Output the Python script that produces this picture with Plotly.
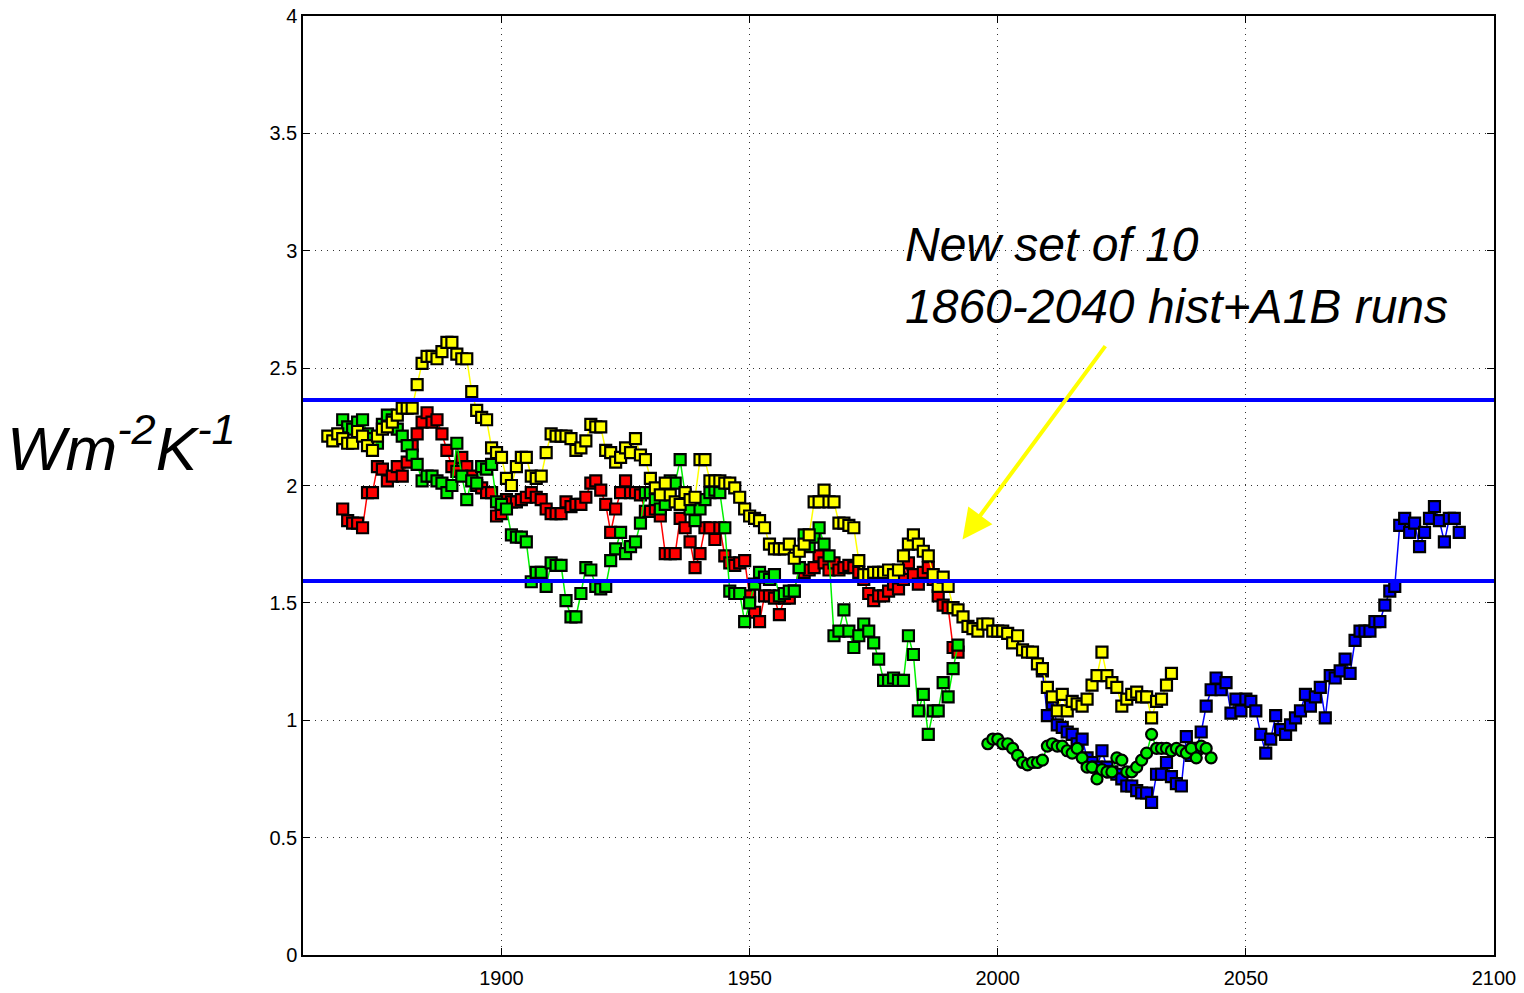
import plotly.graph_objects as go

# Yellow run (annual values, W m-2 K-1)
yellow_years = list(range(1865, 2036))
yellow_vals = [
    2.21, 2.19, 2.22, 2.20, 2.18, 2.18, 2.23, 2.21, 2.17, 2.15,
    2.21, 2.24, 2.25, 2.27, 2.30, 2.33, 2.33, 2.33, 2.43, 2.52,
    2.55, 2.55, 2.54, 2.57, 2.61, 2.61, 2.56, 2.54, 2.54, 2.40,
    2.32, 2.29, 2.28, 2.16, 2.14, 2.12, 2.03, 2.00, 2.08, 2.12,
    2.12, 2.04, 2.03, 2.04, 2.14, 2.22, 2.21, 2.21, 2.21, 2.20,
    2.15, 2.16, 2.19, 2.26, 2.25, 2.25, 2.15, 2.14, 2.10, 2.12,
    2.16, 2.14, 2.20, 2.13, 2.11, 2.03, 1.99, 1.96, 2.01, 1.96,
    1.93, 1.92, 1.97, 1.94, 1.95, 2.11, 2.11, 2.02, 2.02, 2.02,
    2.01, 2.01, 1.99, 1.95, 1.90, 1.87, 1.86, 1.85, 1.82, 1.75,
    1.73, 1.73, 1.73, 1.75, 1.69, 1.72, 1.75, 1.79, 1.93, 1.93,
    1.98, 1.93, 1.93, 1.84, 1.84, 1.83, 1.82, 1.68, 1.62, 1.62,
    1.63, 1.63, 1.63, 1.64, 1.62, 1.64, 1.70, 1.75, 1.79, 1.75,
    1.72, 1.70, 1.62, 1.57, 1.61, 1.57, 1.48, 1.47, 1.44, 1.40,
    1.39, 1.38, 1.41, 1.41, 1.38, 1.38, 1.38, 1.37, 1.33, 1.36,
    1.30, 1.29, 1.29, 1.24, 1.22, 1.14, 1.10, 1.04, 1.11, 1.04,
    1.08, 1.07, 1.06, 1.09, 1.15, 1.19, 1.29, 1.19, 1.16, 1.14,
    1.06, 1.09, 1.11, 1.12, 1.10, 1.10, 1.01, 1.08, 1.09, 1.15,
    1.20,
]

# Red run
red_years = list(range(1868, 1993))
red_vals = [
    1.90, 1.85, 1.84, 1.84, 1.82, 1.97, 1.97, 2.08, 2.07, 2.02,
    2.04, 2.08, 2.04, 2.10, 2.17, 2.22, 2.27, 2.31, 2.27, 2.28,
    2.22, 2.15, 2.08, 2.06, 2.12, 2.08, 2.04, 2.00, 1.99, 1.97,
    1.97, 1.87, 1.88, 1.94, 1.93, 1.93, 1.94, 1.95, 1.97, 1.95,
    1.94, 1.90, 1.88, 1.88, 1.88, 1.93, 1.91, 1.92, 1.92, 1.95,
    2.01, 2.02, 1.98, 1.92, 1.80, 1.90, 1.97, 2.02, 1.97, 1.97,
    1.96, 1.89, 1.89, 1.90, 1.87, 1.71, 1.71, 1.71, 1.86, 1.82,
    1.76, 1.65, 1.71, 1.82, 1.82, 1.77, 1.82, 1.70, 1.67, 1.66,
    1.67, 1.68, 1.53, 1.46, 1.42, 1.53, 1.53, 1.52, 1.45, 1.52,
    1.52, 1.55, 1.65, 1.63, 1.64, 1.65, 1.70, 1.67, 1.64, 1.67,
    1.64, 1.65, 1.66, 1.65, 1.63, 1.60, 1.54, 1.51, 1.53, 1.53,
    1.55, 1.58, 1.56, 1.60, 1.67, 1.62, 1.58, 1.63, 1.65, 1.60,
    1.53, 1.49, 1.48, 1.31, 1.29,
]

# Green run (squares)
green_years = list(range(1868, 1993))
green_vals = [
    2.28, 2.25, 2.24, 2.27, 2.28, 2.22, 2.20, 2.18, 2.26, 2.30,
    2.28, 2.24, 2.21, 2.17, 2.13, 2.09, 2.02, 2.04, 2.04, 2.02,
    2.01, 1.97, 2.00, 2.18, 2.04, 1.94, 2.02, 2.01, 2.08, 2.07,
    2.09, 1.93, 1.92, 1.90, 1.79, 1.78, 1.78, 1.76, 1.59, 1.63,
    1.63, 1.57, 1.67, 1.66, 1.66, 1.51, 1.44, 1.44, 1.54, 1.65,
    1.64, 1.57, 1.56, 1.57, 1.68, 1.73, 1.80, 1.71, 1.74, 1.76,
    1.84, 1.97, 1.97, 1.94, 1.90, 1.92, 2.02, 2.01, 2.11, 1.96,
    1.90, 1.85, 1.90, 1.94, 1.97, 1.98, 1.97, 1.82, 1.55, 1.54,
    1.54, 1.42, 1.50, 1.58, 1.63, 1.61, 1.60, 1.62, 1.53, 1.54,
    1.55, 1.55, 1.65, 1.79, 1.74, 1.78, 1.82, 1.75, 1.70, 1.36,
    1.38, 1.47, 1.38, 1.31, 1.36, 1.41, 1.38, 1.33, 1.26, 1.17,
    1.17, 1.18, 1.17, 1.17, 1.36, 1.28, 1.04, 1.11, 0.94, 1.04,
    1.04, 1.16, 1.10, 1.22, 1.32,
]

# Green run continuation (circles)
circle_years = list(range(1998, 2044))
circle_vals = [
    0.90, 0.92, 0.92, 0.90, 0.90, 0.88, 0.85, 0.82, 0.81, 0.82,
    0.82, 0.83, 0.89, 0.90, 0.89, 0.89, 0.87, 0.86, 0.88, 0.84,
    0.80, 0.80, 0.75, 0.79, 0.78, 0.78, 0.84, 0.83, 0.78, 0.78,
    0.80, 0.83, 0.86, 0.94, 0.88, 0.88, 0.88, 0.87, 0.88, 0.87,
    0.86, 0.88, 0.84, 0.89, 0.88, 0.84,
]

# Blue run
blue_years = list(range(2009, 2094))
blue_vals = [
    1.21, 1.02, 1.07, 0.98, 0.97, 0.95, 0.94, 0.90, 0.92, 0.84,
    0.82, 0.80, 0.87, 0.80, 0.78, 0.77, 0.75, 0.72, 0.72, 0.70,
    0.69, 0.69, 0.65, 0.77, 0.77, 0.82, 0.76, 0.73, 0.72, 0.93,
    0.85, 0.88, 0.95, 1.06, 1.13, 1.18, 1.13, 1.16, 1.03, 1.09,
    1.04, 1.09, 1.08, 1.04, 0.94, 0.86, 0.92, 1.02, 0.96, 0.94,
    0.98, 1.01, 1.04, 1.11, 1.06, 1.10, 1.14, 1.01, 1.19, 1.18,
    1.21, 1.26, 1.20, 1.34, 1.38, 1.38, 1.38, 1.42, 1.42, 1.49,
    1.55, 1.57, 1.83, 1.86, 1.80, 1.84, 1.74, 1.80, 1.86, 1.91,
    1.85, 1.76, 1.86, 1.86, 1.80,
]

# Horizontal reference levels
ref_levels = [2.364, 1.593]

x_ticks = [1900, 1950, 2000, 2050, 2100]
y_ticks = [0, 0.5, 1, 1.5, 2, 2.5, 3, 3.5, 4]
y_tick_text = ["0", "0.5", "1", "1.5", "2", "2.5", "3", "3.5", "4"]

fig = go.Figure()


def add_run(years, vals, color, symbol="square"):
    fig.add_trace(go.Scatter(
        x=years, y=vals, mode="lines+markers",
        line=dict(color=color, width=1.5),
        marker=dict(symbol=symbol, size=11, color=color,
                    line=dict(color="black", width=2.2)),
        showlegend=False, hoverinfo="skip",
    ))


add_run(blue_years, blue_vals, "#0000ff")
add_run(red_years, red_vals, "#ff0000")
add_run(green_years, green_vals, "#00f000")
add_run(circle_years, circle_vals, "#00f000", symbol="circle")
add_run(yellow_years, yellow_vals, "#ffff00")

for lvl in ref_levels:
    fig.add_shape(type="line", xref="paper", x0=0, x1=1, yref="y",
                  y0=lvl, y1=lvl, line=dict(color="#0000ff", width=4))

axis_font = dict(family="Liberation Sans, Arial", size=20, color="black")
grid_style = dict(showgrid=True, gridcolor="#333333", griddash="1px,5px",
                  gridwidth=1, zeroline=False)

fig.update_xaxes(
    range=[1860, 2100], tickvals=x_ticks, ticks="inside", ticklen=7,
    tickcolor="black", showline=True, linecolor="black", linewidth=1.5,
    mirror="ticks", tickfont=axis_font, automargin=False,
    ticklabelstandoff=4, **grid_style,
)
fig.update_yaxes(
    range=[0, 4], tickvals=y_ticks, ticktext=y_tick_text, ticks="inside",
    ticklen=7, tickcolor="black", showline=True, linecolor="black",
    linewidth=1.5, mirror="ticks", tickfont=axis_font, automargin=False,
    **grid_style,
)

# Annotation text and arrow
fig.add_annotation(
    x=1981, y=2.895, xref="x", yref="y", xanchor="left", yanchor="middle",
    text="<i>New set of 10<br>1860-2040 hist+A1B runs</i>",
    showarrow=False, align="left",
    font=dict(family="Liberation Sans, Arial", size=48, color="black"),
)
fig.add_annotation(
    x=1992.9, y=1.77, ax=2021.9, ay=2.60, xref="x", yref="y",
    axref="x", ayref="y", text="", showarrow=True, arrowhead=2,
    arrowsize=1.5, arrowwidth=4, arrowcolor="#ffff00",
)

# Units label
fig.add_annotation(
    x=-0.25, y=0.544, xref="paper", yref="paper", xanchor="left",
    yanchor="middle", showarrow=False,
    text="<i>Wm<sup>-2</sup>K<sup>-1</sup></i>",
    font=dict(family="Liberation Sans, Arial", size=62, color="black"),
)

fig.update_layout(
    width=1524, height=993,
    margin=dict(l=303, r=30, t=16, b=38),
    paper_bgcolor="white", plot_bgcolor="white",
)

fig.write_html("out.html")
